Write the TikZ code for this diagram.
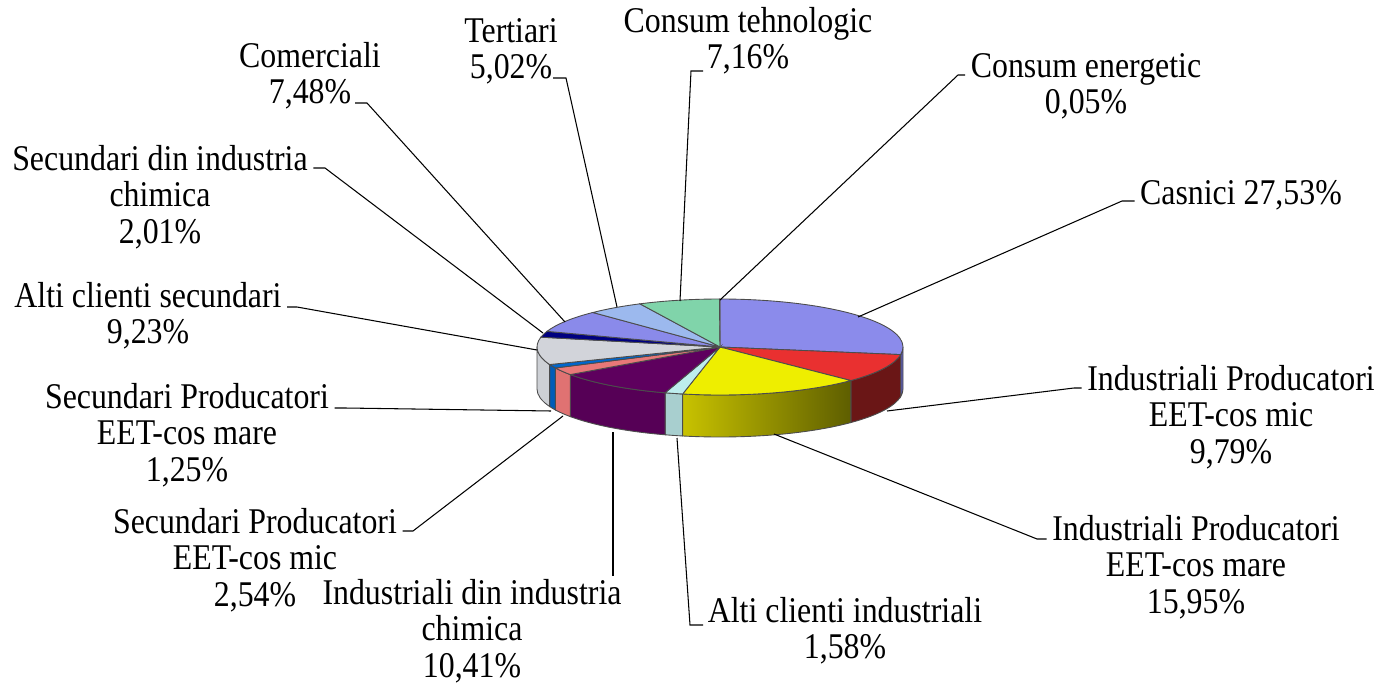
\documentclass[tikz,border=0pt]{standalone}
\usepackage{fontspec}
\setmainfont{Liberation Serif}
\newfontfamily\lblfont[FakeStretch=0.88]{Liberation Serif}
\usetikzlibrary{positioning}

\definecolor{casT}{HTML}{8B8BEB}
\definecolor{casS}{HTML}{5C5CB0}
\definecolor{redT}{HTML}{E93030}
\definecolor{redS}{HTML}{6A1616}
\definecolor{yelT}{HTML}{EEEE00}
\definecolor{yelL}{HTML}{C8C200}
\definecolor{yelR}{HTML}{5E5E00}
\definecolor{aciT}{HTML}{BDEEEE}
\definecolor{aciS}{HTML}{A8CFCF}
\definecolor{ichT}{HTML}{5E005E}
\definecolor{ichS}{HTML}{560056}
\definecolor{spcT}{HTML}{E87878}
\definecolor{spcS}{HTML}{E07272}
\definecolor{spmT}{HTML}{0066CC}
\definecolor{spmS}{HTML}{005CB8}
\definecolor{acsT}{HTML}{D2D4DA}
\definecolor{acsS}{HTML}{CDD0D5}
\definecolor{schT}{HTML}{000080}
\definecolor{comT}{HTML}{8A8AEA}
\definecolor{terT}{HTML}{9CB9EE}
\definecolor{tehT}{HTML}{80D4AA}
\definecolor{eneT}{HTML}{F2F2F2}

\tikzset{
  lbl/.style={font=\lblfont\fontsize{20.6}{20.7}\selectfont, align=center, inner sep=0pt},
  leader/.style={black, line width=0.6pt},
  slice/.style={draw=black!70, line width=0.5pt}
}

\begin{document}
\begin{tikzpicture}[x=0.02cm, y=0.02cm]
  \useasboundingbox (0,0) rectangle (1380,-686);

  % the pie: sides first, then the top faces
  \begin{scope}[shift={(720,-347)}]
    \foreach \a/\b/\c in {0/-9.108/casS, -9.108/-44.352/redS, -101.772/-107.46/aciS,
                          -107.46/-144.936/ichS, -144.936/-154.08/spcS, -154.08/-158.58/spmS,
                          -158.58/-180/acsS}
      \filldraw[slice, fill=\c] (\a:183 and 48) arc[start angle=\a, end angle=\b, x radius=183, y radius=48]
        -- ++(0,-42) arc[start angle=\b, end angle=\a, x radius=183, y radius=48] -- cycle;
    \shade[left color=yelL, right color=yelR] (-44.352:183 and 48) arc[start angle=-44.352, end angle=-101.772, x radius=183, y radius=48]
      -- ++(0,-42) arc[start angle=-101.772, end angle=-44.352, x radius=183, y radius=48] -- cycle;
    \draw[slice] (-44.352:183 and 48) arc[start angle=-44.352, end angle=-101.772, x radius=183, y radius=48]
      -- ++(0,-42) arc[start angle=-101.772, end angle=-44.352, x radius=183, y radius=48] -- cycle;

    \foreach \a/\b/\c in {90/-9.108/casT, -9.108/-44.352/redT, -44.352/-101.772/yelT,
                          -101.772/-107.46/aciT, -107.46/-144.936/ichT, -144.936/-154.08/spcT,
                          -154.08/-158.58/spmT, -158.58/-191.808/acsT, -191.808/-199.044/schT,
                          -199.044/-225.972/comT, -225.972/-244.044/terT, -244.044/-269.82/tehT,
                          -269.82/-270/eneT}
      \filldraw[slice, fill=\c] (0,0) -- (\a:183 and 48) arc[start angle=\a, end angle=\b, x radius=183, y radius=48] -- cycle;
  \end{scope}

  % labels
  \node[lbl] (lCas) at (1241,-195) {Casnici 27,53\%};
  \node[lbl] (lEne) at (1086,-86) {Consum energetic\\0,05\%};
  \node[lbl] (lTeh) at (748,-41) {Consum tehnologic\\7,16\%};
  \node[lbl] (lTer) at (511,-51) {Tertiari\\5,02\%};
  \node[lbl] (lCom) at (310,-76) {Comerciali\\7,48\%};
  \node[lbl] (lSch) at (160,-197) {Secundari din industria\\chimica\\2,01\%};
  \node[lbl] (lAcs) at (148,-316) {Alti clienti secundari\\9,23\%};
  \node[lbl] (lSpm) at (187,-435) {Secundari Producatori\\EET-cos mare\\1,25\%};
  \node[lbl] (lSpc) at (255,-560) {Secundari Producatori\\EET-cos mic\\2,54\%};
  \node[lbl] (lIch) at (472,-631) {Industriali din industria\\chimica\\10,41\%};
  \node[lbl] (lAci) at (845,-631) {Alti clienti industriali\\1,58\%};
  \node[lbl] (lIpM) at (1196,-567) {Industriali Producatori\\EET-cos mare\\15,95\%};
  \node[lbl] (lIpm) at (1231,-417) {Industriali Producatori\\EET-cos mic\\9,79\%};

  % leader lines
  \coordinate (pCas) at (858,-317);  \coordinate (kCas) at (1122,-201);
  \coordinate (pEne) at (720,-300);  \coordinate (kEne) at (958,-75);
  \coordinate (pTeh) at (680,-301);  \coordinate (kTeh) at (691,-71);  \coordinate (eTeh) at (703,-71);
  \coordinate (pTer) at (617,-307);  \coordinate (kTer) at (566,-78);  \coordinate (eTer) at (553,-78);
  \coordinate (pCom) at (565,-322);  \coordinate (kCom) at (367,-103); \coordinate (eCom) at (355,-103);
  \coordinate (pSch) at (543,-333);  \coordinate (kSch) at (325,-168);
  \coordinate (pAcs) at (537,-350);  \coordinate (kAcs) at (297,-307);
  \coordinate (pSpm) at (551,-411);  \coordinate (kSpm) at (345,-408);
  \coordinate (pSpc) at (563,-416);  \coordinate (kSpc) at (413,-531);
  \coordinate (pIch) at (613,-432);  \coordinate (kIch) at (613,-576);
  \coordinate (pAci) at (677,-438);  \coordinate (kAci) at (690,-625); \coordinate (eAci) at (703,-625);
  \coordinate (pIpM) at (774,-434);  \coordinate (kIpM) at (1037,-539);
  \coordinate (pIpm) at (887,-411);  \coordinate (kIpm) at (1074,-388);

  \draw[leader] (pCas) -- (kCas) -- ([xshift=-3]lCas.west |- kCas);
  \draw[leader] (pEne) -- (kEne) -- ([xshift=-3]lEne.west |- kEne);
  \draw[leader] (pTeh) -- (kTeh) -- (eTeh);
  \draw[leader] (pTer) -- (kTer) -- (eTer);
  \draw[leader] (pCom) -- (kCom) -- (eCom);
  \draw[leader] (pSch) -- (kSch) -- ([xshift=3]lSch.east |- kSch);
  \draw[leader] (pAcs) -- (kAcs) -- ([xshift=3]lAcs.east |- kAcs);
  \draw[leader] (pSpm) -- (kSpm) -- ([xshift=3]lSpm.east |- kSpm);
  \draw[leader] (pSpc) -- (kSpc) -- ([xshift=3]lSpc.east |- kSpc);
  \draw[leader] (pIch) -- (kIch);
  \draw[leader] (pAci) -- (kAci) -- (eAci);
  \draw[leader] (pIpM) -- (kIpM) -- ([xshift=-3]lIpM.west |- kIpM);
  \draw[leader] (pIpm) -- (kIpm) -- ([xshift=-3]lIpm.west |- kIpm);
\end{tikzpicture}
\end{document}
